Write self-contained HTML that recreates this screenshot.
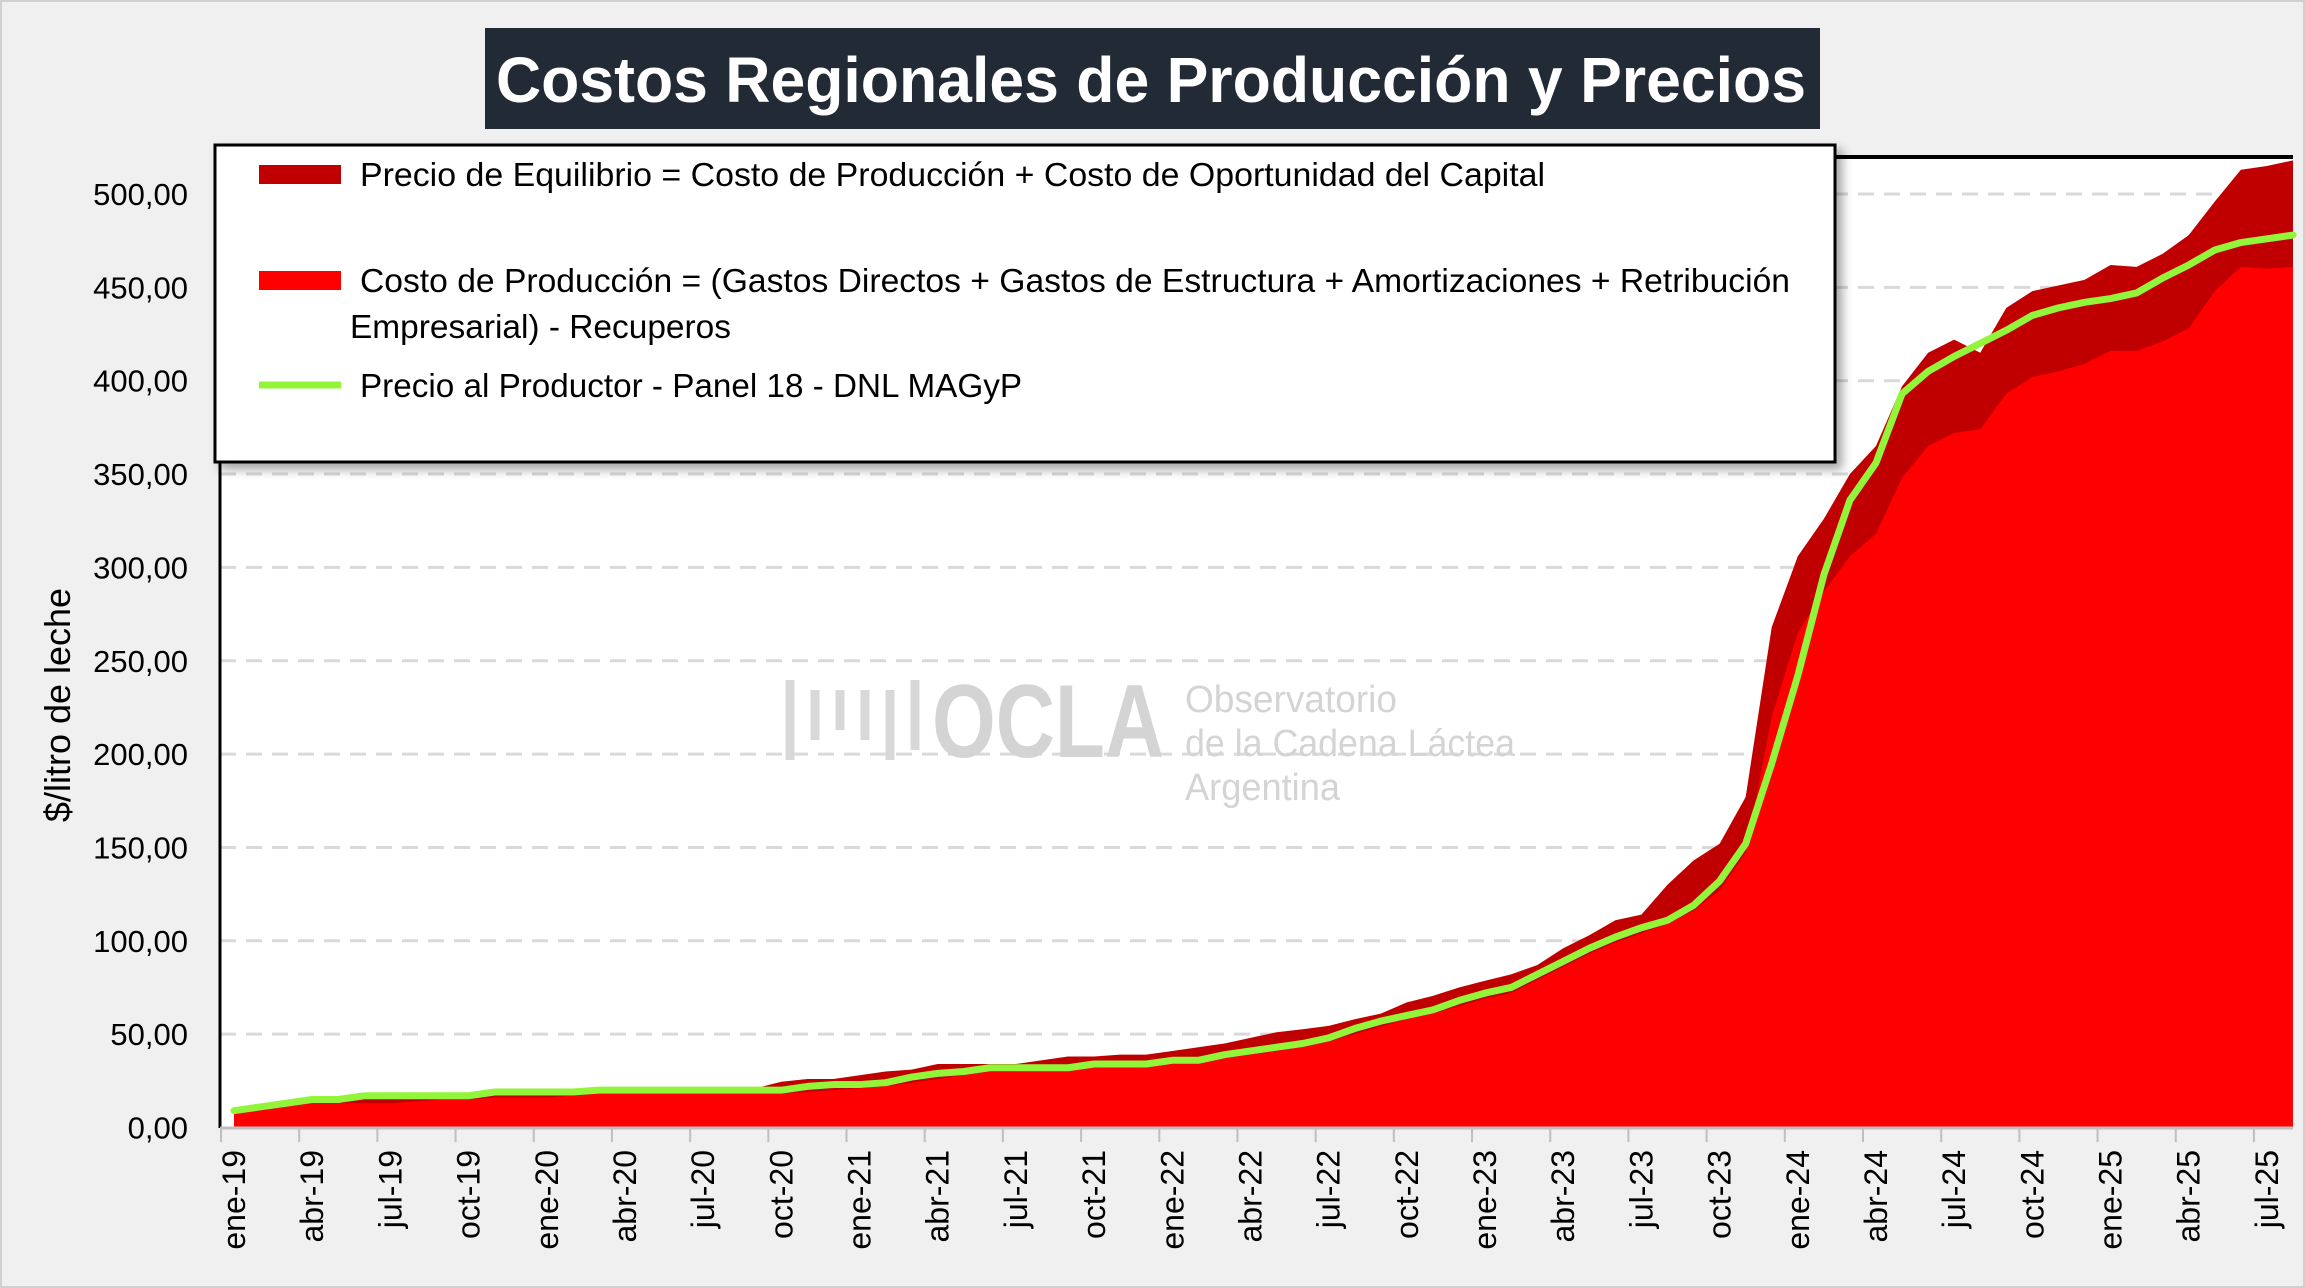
<!DOCTYPE html>
<html><head><meta charset="utf-8"><style>
html,body{margin:0;padding:0;background:#f0f0f0;}
svg{display:block;}
text{font-family:"Liberation Sans",sans-serif;}
</style></head><body>
<svg id="chart" width="2305" height="1288" viewBox="0 0 2305 1288" xmlns="http://www.w3.org/2000/svg">
<defs><filter id="sh" x="-5%" y="-5%" width="115%" height="120%"><feDropShadow dx="6" dy="6" stdDeviation="5" flood-color="#000" flood-opacity="0.35"/></filter></defs>
<rect x="1" y="1" width="2303" height="1286" fill="#f0f0f0" stroke="#d0d0d0" stroke-width="2"/>
<rect x="220" y="157" width="2073" height="971" fill="#ffffff"/>
<g id="grid"></g>
<g fill="#d4d4d4">
<g stroke="#d8d8d8" stroke-width="9" fill="none"><path d="M790 680 V760 M815 690 V740 M840 690 V730 M865 690 V740 M890 690 V760 M915 680 V750"/></g>
<text x="932" y="757" font-size="104" font-weight="bold" textLength="232" lengthAdjust="spacingAndGlyphs">OCLA</text>
<text x="1185" y="712" font-size="38" textLength="212" lengthAdjust="spacingAndGlyphs">Observatorio</text>
<text x="1185" y="756" font-size="38" textLength="330" lengthAdjust="spacingAndGlyphs">de la Cadena Láctea</text>
<text x="1185" y="800" font-size="38" textLength="155" lengthAdjust="spacingAndGlyphs">Argentina</text>
</g>
<g id="series"></g>
<line x1="220" y1="157" x2="2293" y2="157" stroke="#000" stroke-width="4"/>
<line x1="220" y1="157" x2="220" y2="1128" stroke="#000" stroke-width="3"/>
<line x1="220" y1="1128" x2="2293" y2="1128" stroke="#bfbfbf" stroke-width="3"/>
<g id="yticks"></g>
<g id="xticks"></g>
<text transform="translate(70,705) rotate(-90)" text-anchor="middle" font-size="36" fill="#000">$/litro de leche</text>
<g>
<rect x="485" y="28" width="1335" height="101" fill="#222a35"/>
<text x="496" y="102" font-size="64" font-weight="bold" fill="#fff" textLength="1310" lengthAdjust="spacingAndGlyphs">Costos Regionales de Producción y Precios</text>
</g>
<g>
<rect x="215" y="145" width="1620" height="317" fill="#fff" stroke="#000" stroke-width="3" filter="url(#sh)"/>
<g>
<rect x="259" y="165" width="82" height="19" fill="#c00000"/>
<text x="360" y="186" font-size="33" textLength="1185" lengthAdjust="spacingAndGlyphs">Precio de Equilibrio = Costo de Producción + Costo de Oportunidad del Capital</text>
</g>
<g>
<rect x="259" y="271" width="82" height="19" fill="#ff0000"/>
<text x="360" y="292" font-size="33" textLength="1430" lengthAdjust="spacingAndGlyphs">Costo de Producción = (Gastos Directos + Gastos de Estructura + Amortizaciones + Retribución</text>
<text x="350" y="338" font-size="33" textLength="381" lengthAdjust="spacingAndGlyphs">Empresarial) - Recuperos</text>
</g>
<g>
<line x1="259" y1="385" x2="341" y2="385" stroke="#92f53a" stroke-width="7"/>
<text x="360" y="397" font-size="33" textLength="662" lengthAdjust="spacingAndGlyphs">Precio al Productor - Panel 18 - DNL MAGyP</text>
</g>
</g>
</svg>
<script>
const monthNames = ["ene","feb","mar","abr","may","jun","jul","ago","sep","oct","nov","dic"];
const startYear = 19;
const equilibrio = [10,12,14,15,15,16,16,16,17,17,19,19,19,19,20,20,20,20,21,21,21,24.5,26,26,28,30,31,34,34,34,34,36,38,38,39,39,41,43,45,48,51,52.6,54.4,58,61,67,70.5,75,78.6,82,87,96,103,111,114,130,143,152,177,268,306,326,350,365,397,415,422,415,439,448,451,454,462,461,468,478,496,513,515,518];
const costo = [7,9,11,13,13,13,13,14,15,15,16,16,16,17,18,18,18,18,18,18,18,18,19,20,21,22,24,26,28,30,30,31,32,32,33,33,34,35,37,39,41,43,46,50,54,58,61,65,69,72,79,86,93,99,104,109,116,127,147,220,265,287,306,318,348,365,372,374,393,402,405,409,416,416,421,428,448,461,460,461];
const precio = [9,11,13,15,15,17,17,17,17,17,19,19,19,19,20,20,20,20,20,20,20,20,22,23,23,24,27,29,30,32,32,32,32,34,34,34,36,36,39,41,43,45,48,53,57,60,63,68,72,75,82,89,96,102,107,111,119,132,152,195,242,296,336,356,393,405,413,420,427,435,439,442,444,447,455,462,470,474,476,478];
const yTicks = [0,50,100,150,200,250,300,350,400,450,500];

const NS="http://www.w3.org/2000/svg";
const L=220,R=2293,Y0=1127.5,Y500=194,X0=234;
const n=precio.length, cw=(R-X0)/(n-1);
const xs=i=>X0+cw*i;
const ys=v=>Y0-(Y0-Y500)*v/500;
function mk(tag,attrs,parent){const e=document.createElementNS(NS,tag);for(const k in attrs)e.setAttribute(k,attrs[k]);parent.appendChild(e);return e;}
const grid=document.getElementById('grid'), yt=document.getElementById('yticks'), xt=document.getElementById('xticks'), ser=document.getElementById('series');
yTicks.forEach(v=>{
  if(v>0){const g=mk('line',{x1:L,x2:R,y1:ys(v),y2:ys(v),stroke:'#d9d9d9','stroke-width':3,'stroke-dasharray':'16 10'},grid);
  
  }
  const t=mk('text',{x:188,y:ys(v)+11,'text-anchor':'end','font-size':31},yt);
  t.textContent=v.toFixed(2).replace('.',',');
  
  
});
function area(arr,fill,name){
  let d='M'+xs(0)+','+Y0;
  arr.forEach((v,i)=>{d+=' L'+xs(i)+','+ys(v);});
  d+=' L'+xs(n-1)+','+Y0+' Z';
  const p=mk('path',{d:d,fill:fill},ser);
  
  
}
area(equilibrio,'#c00000','area-precio-equilibrio');
area(costo,'#ff0000','area-costo-produccion');
const pl=mk('polyline',{points:precio.map((v,i)=>xs(i)+','+ys(v)).join(' '),fill:'none',stroke:'#92f53a','stroke-width':7,'stroke-linejoin':'round','stroke-linecap':'round'},ser);


for(let i=0;i<=n;i+=3){
  const tk=mk('line',{x1:xs(i)-13,x2:xs(i)-13,y1:1128,y2:1142,stroke:'#bfbfbf','stroke-width':2},xt);
  
  
}
for(let i=0;i<n;i+=3){
  const lbl=monthNames[i%12]+'-'+(startYear+Math.floor(i/12));
  const t=mk('text',{transform:'translate('+(xs(i)+11)+',1150) rotate(-90)','text-anchor':'end','font-size':32},xt);
  t.textContent=lbl;
  
  
}
</script>
</body></html>
